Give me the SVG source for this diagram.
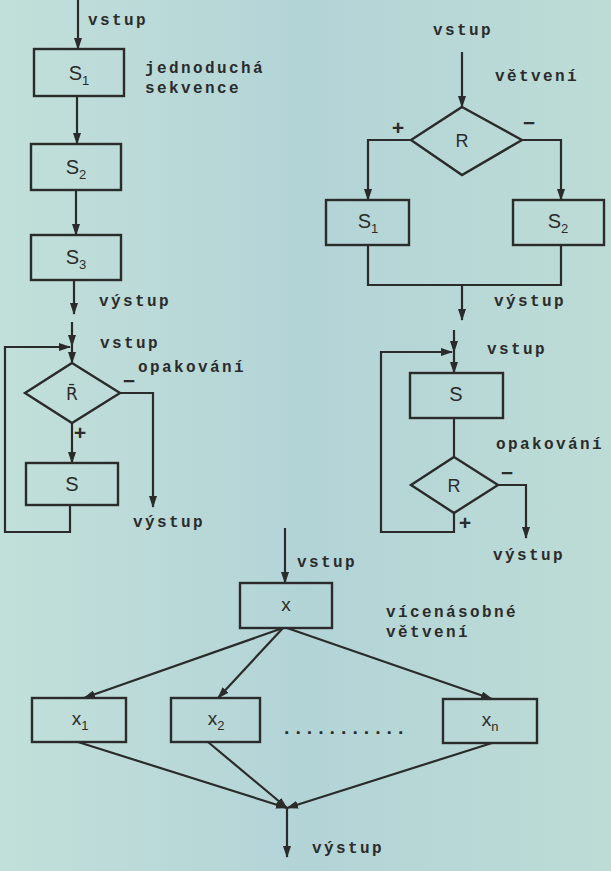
<svg xmlns="http://www.w3.org/2000/svg" width="611" height="871" viewBox="0 0 611 871">
<style>
.ln{stroke:#2b2b2b;stroke-width:2.2;fill:none}
.nd{stroke:#2b2b2b;stroke-width:2.4;fill:none}
.lb{font-family:"Liberation Mono","Courier New",monospace;font-weight:bold;font-size:16px;letter-spacing:2.4px;fill:#2b2b2b}
.sg{font-family:"Liberation Mono","Courier New",monospace;font-weight:bold;font-size:21px;fill:#2b2b2b;text-anchor:middle}
.bx{font-family:"Liberation Sans",Arial,sans-serif;font-size:20px;fill:#2b2b2b;text-anchor:middle}
.sub{font-size:13px}
</style>
<defs>
<linearGradient id="bg" x1="0" y1="0" x2="1" y2="0">
<stop offset="0" stop-color="#c2e0da"/>
<stop offset="0.5" stop-color="#b3d4d7"/>
<stop offset="1" stop-color="#bddcd6"/>
</linearGradient>
<marker id="ah" markerWidth="12" markerHeight="8" refX="11" refY="4" orient="auto" markerUnits="userSpaceOnUse">
<path d="M0,0 L12,4 L0,8 z" fill="#2b2b2b"/>
</marker>
</defs>
<rect x="0" y="0" width="611" height="871" fill="url(#bg)"/>

<g id="connectors">
<!-- sequence -->
<line class="ln" x1="78" y1="0" x2="78" y2="49" marker-end="url(#ah)"/>
<line class="ln" x1="77" y1="96" x2="77" y2="144" marker-end="url(#ah)"/>
<line class="ln" x1="76" y1="190" x2="76" y2="235" marker-end="url(#ah)"/>
<line class="ln" x1="74" y1="280" x2="74" y2="314" marker-end="url(#ah)"/>
<!-- while loop -->
<line class="ln" x1="72" y1="322" x2="72" y2="346" marker-end="url(#ah)"/>
<line class="ln" x1="72" y1="346" x2="72" y2="363" marker-end="url(#ah)"/>
<path class="ln" d="M70,505 V532 H5 V347 H70" marker-end="url(#ah)"/>
<line class="ln" x1="72" y1="423" x2="72" y2="463" marker-end="url(#ah)"/>
<path class="ln" d="M120,393 H153 V507" marker-end="url(#ah)"/>
<!-- branching -->
<line class="ln" x1="462" y1="52" x2="462" y2="107" marker-end="url(#ah)"/>
<path class="ln" d="M411,140 H368 V200" marker-end="url(#ah)"/>
<path class="ln" d="M522,140 H561 V200" marker-end="url(#ah)"/>
<path class="ln" d="M368,245 V285 H561 V245"/>
<line class="ln" x1="462" y1="285" x2="462" y2="320" marker-end="url(#ah)"/>
<!-- repeat loop -->
<line class="ln" x1="454" y1="330" x2="454" y2="352" marker-end="url(#ah)"/>
<line class="ln" x1="454" y1="352" x2="454" y2="373" marker-end="url(#ah)"/>
<path class="ln" d="M454,513 V532 H381 V352 H452" marker-end="url(#ah)"/>
<line class="ln" x1="454" y1="418" x2="454" y2="457"/>
<path class="ln" d="M498,485 H526 V538" marker-end="url(#ah)"/>
<!-- multi-branch -->
<line class="ln" x1="285" y1="528" x2="285" y2="583" marker-end="url(#ah)"/>
<line class="ln" x1="283" y1="628" x2="84" y2="698" marker-end="url(#ah)"/>
<line class="ln" x1="283" y1="628" x2="218" y2="698" marker-end="url(#ah)"/>
<line class="ln" x1="287" y1="628" x2="492" y2="699" marker-end="url(#ah)"/>
<line class="ln" x1="78" y1="742" x2="287" y2="808" marker-end="url(#ah)"/>
<line class="ln" x1="208" y1="742" x2="287" y2="808" marker-end="url(#ah)"/>
<line class="ln" x1="492" y1="743" x2="287" y2="808" marker-end="url(#ah)"/>
<line class="ln" x1="287" y1="808" x2="287" y2="857" marker-end="url(#ah)"/>
</g>

<g id="seq_s1"><rect class="nd" x="34" y="49" width="90" height="47"/><text class="bx" x="79" y="80">S<tspan class="sub" dy="5">1</tspan></text></g>
<g id="seq_s2"><rect class="nd" x="31" y="144" width="90" height="46"/><text class="bx" x="76" y="174">S<tspan class="sub" dy="5">2</tspan></text></g>
<g id="seq_s3"><rect class="nd" x="31" y="235" width="90" height="45"/><text class="bx" x="76" y="264">S<tspan class="sub" dy="5">3</tspan></text></g>

<g id="while_r"><polygon class="nd" points="72,363 120,393 72,423 25,393"/><text class="bx" x="72" y="400" style="font-family:'DejaVu Sans',sans-serif;font-size:17px">R&#772;</text></g>
<g id="while_s"><rect class="nd" x="26" y="463" width="92" height="42"/><text class="bx" x="72" y="491">S</text></g>

<g id="br_r"><polygon class="nd" points="462,107 522,140 462,175 411,140"/><text class="bx" x="462" y="147" style="font-size:18px">R</text></g>
<g id="br_s1"><rect class="nd" x="326" y="200" width="83" height="45"/><text class="bx" x="368" y="228">S<tspan class="sub" dy="5">1</tspan></text></g>
<g id="br_s2"><rect class="nd" x="513" y="200" width="91" height="45"/><text class="bx" x="558" y="228">S<tspan class="sub" dy="5">2</tspan></text></g>

<g id="rep_s"><rect class="nd" x="410" y="373" width="93" height="45"/><text class="bx" x="456" y="401">S</text></g>
<g id="rep_r"><polygon class="nd" points="454,457 498,485 454,513 411,485"/><text class="bx" x="454" y="492" style="font-size:18px">R</text></g>

<g id="mb_x"><rect class="nd" x="240" y="583" width="92" height="45"/><text class="bx" x="286" y="611" style="font-size:19px">x</text></g>
<g id="mb_x1"><rect class="nd" x="32" y="698" width="94" height="44"/><text class="bx" x="80" y="725" style="font-size:19px">x<tspan class="sub" dy="5">1</tspan></text></g>
<g id="mb_x2"><rect class="nd" x="171" y="698" width="89" height="44"/><text class="bx" x="216" y="725" style="font-size:19px">x<tspan class="sub" dy="5">2</tspan></text></g>
<g id="mb_xn"><rect class="nd" x="443" y="699" width="94" height="44"/><text class="bx" x="490" y="726" style="font-size:19px">x<tspan class="sub" dy="5">n</tspan></text></g>

<g id="labels">
<text class="lb" x="88" y="25">vstup</text>
<text class="lb" x="145" y="73">jednoduchá</text>
<text class="lb" x="145" y="93">sekvence</text>
<text class="lb" x="99" y="306">výstup</text>
<text class="lb" x="100" y="348">vstup</text>
<text class="lb" x="138" y="372">opakování</text>
<text class="sg" x="129" y="388">−</text>
<text class="sg" x="80" y="440">+</text>
<text class="lb" x="133" y="527">výstup</text>

<text class="lb" x="433" y="35">vstup</text>
<text class="lb" x="495" y="81">větvení</text>
<text class="sg" x="398" y="135">+</text>
<text class="sg" x="529" y="130">−</text>
<text class="lb" x="494" y="306">výstup</text>

<text class="lb" x="487" y="354">vstup</text>
<text class="lb" x="496" y="449">opakování</text>
<text class="sg" x="507" y="480">−</text>
<text class="sg" x="465" y="530">+</text>
<text class="lb" x="493" y="560">výstup</text>

<text class="lb" x="297" y="567">vstup</text>
<text class="lb" x="386" y="617">vícenásobné</text>
<text class="lb" x="386" y="637">větvení</text>
<text class="lb" x="281" y="734" style="font-size:19px;letter-spacing:0">...........</text>
<text class="lb" x="312" y="853">výstup</text>
</g>
</svg>
